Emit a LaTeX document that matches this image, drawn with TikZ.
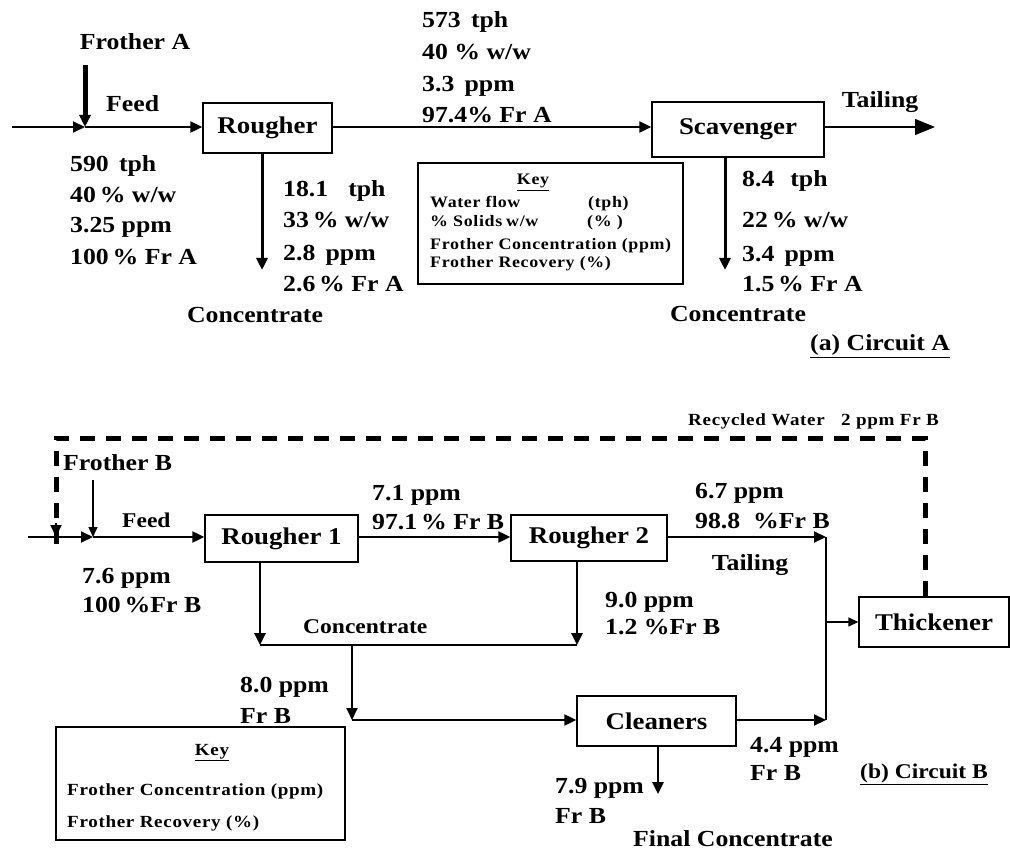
\documentclass[tikz,border=0pt]{standalone}
\usepackage{fontspec}
\setmainfont{Liberation Serif}[FakeStretch=1.12]
\newfontfamily\keyfam{Liberation Serif}[FakeStretch=1.12,LetterSpace=4]
\usetikzlibrary{arrows.meta}
\newcommand\txtf{\fontsize{23}{26}\selectfont\bfseries}
\newcommand\boxf{\fontsize{24}{27}\selectfont\bfseries}
\newcommand\keyf{\keyfam\fontsize{16}{18}\selectfont\bfseries}
\newcommand\smallf{\keyfam\fontsize{17}{19}\selectfont\bfseries}
\tikzset{
  lbl/.style={anchor=base west,inner sep=0pt,font=\txtf},
  lblc/.style={anchor=base,inner sep=0pt,font=\txtf},
  klbl/.style={anchor=base west,inner sep=0pt,font=\keyf},
  unitbox/.style={draw,line width=1.3pt,inner sep=0pt,font=\boxf},
  keybox/.style={draw,line width=1.3pt,inner sep=0pt},
  arr/.style={-{Triangle[length=12pt,width=11pt]}},
  sarr/.style={-{Triangle[length=10pt,width=9pt]}},
  bigarr/.style={-{Triangle[length=20pt,width=16pt]}},
  heavy/.style={line width=5pt},
  flow/.style={line width=2pt},
  thinflow/.style={line width=1.3pt},
  recycle/.style={line width=5pt,dash pattern=on 15pt off 11pt},
}
\begin{document}
\begin{tikzpicture}[x=1pt,y=-1pt]
\useasboundingbox (0,0) rectangle (1010,850);

% ================= Circuit A =================
\node[unitbox,minimum width=129pt,minimum height=50pt] (rA) at (267.5,128) {Rougher};
\node[unitbox,minimum width=172pt,minimum height=55pt] (sA) at (738,129.5) {Scavenger};
\node[keybox,minimum width=265pt,minimum height=121pt] (keyA) at (550.5,223.5) {};

\coordinate (fa0) at (12,127);
\coordinate (fjA) at (85,127);
\coordinate (frA) at (85,65);
\coordinate (tailA) at (935,127);
\coordinate (cA1) at (262,270);
\coordinate (cA2) at (725,270);

\draw[flow,arr] (fa0) -- (fjA);
\draw[flow,arr] (fjA) -- (fjA -| rA.west);
\draw[heavy,arr] (frA) -- (fjA);
\draw[flow,arr] (rA.east |- fjA) -- (fjA -| sA.west);
\draw[thinflow,bigarr] (sA.east |- tailA) -- (tailA);
\draw[line width=3pt,arr] (cA1 |- rA.south) -- (cA1);
\draw[line width=3pt,arr] (cA2 |- sA.south) -- (cA2);

\node[lblc] (tFrA) at (135,50) {Frother A};
\node[lbl] (tFeedA) at (106,112) {Feed};
\node[lbl] (a1) at (70,172) {590 \,tph};
\node[lbl] (a2) at (70,203) {40\,\% w/w};
\node[lbl] (a3) at (70,233) {3.25 ppm};
\node[lbl] (a4) at (70,265) {100\,\% Fr A};

\node[lbl] (b1) at (283,197) {18.1\hspace{20pt}tph};
\node[lbl] (b2) at (283,228) {33\,\% w/w};
\node[lbl] (b3) at (283,261) {2.8 \,ppm};
\node[lbl] (b4) at (283,292) {2.6\,\% Fr A};
\node[lblc] (cnA1) at (255,323) {Concentrate};

\node[lbl] (m1) at (422,28) {573 \,tph};
\node[lbl] (m2) at (422,60) {40 \% w/w};
\node[lbl] (m3) at (422,92) {3.3 \,ppm};
\node[lbl] (m4) at (422,123) {97.4\% Fr A};

\node[lblc] (tTailA) at (880,108) {Tailing};
\node[lbl] (s1) at (742,187) {8.4\hspace{16pt}tph};
\node[lbl] (s2) at (742,228) {22\,\% w/w};
\node[lbl] (s3) at (742,262) {3.4 \,ppm};
\node[lbl] (s4) at (742,292) {1.5\,\% Fr A};
\node[lblc] (cnA2) at (738,322) {Concentrate};
\node[lbl] (capA) at (810,351) {\underline{(a) Circuit A}};

\node[anchor=base,inner sep=0pt,font=\keyf] (kA0) at (533,185) {\underline{Key}};
\node[klbl] (kA1) at (430,208) {Water flow};
\node[klbl] (kA1u) at (588,208) {(tph)};
\node[klbl] (kA2) at (430,227) {\% Solids};
\node[klbl] (kA2w) at (506,227) {w/w};
\node[klbl] (kA2u) at (587,227) {(\% )};
\node[klbl] (kA3) at (430,250) {Frother Concentration (ppm)};
\node[klbl] (kA4) at (430,268) {Frother Recovery (\%)};

% ================= Circuit B =================
\node[unitbox,minimum width=153pt,minimum height=47pt] (r1) at (281.5,538.5) {Rougher 1};
\node[unitbox,minimum width=156pt,minimum height=46pt] (r2) at (589,538) {Rougher 2};
\node[unitbox,minimum width=150pt,minimum height=50pt] (th) at (934,622) {Thickener};
\node[unitbox,minimum width=159pt,minimum height=50pt] (cl) at (656.5,721) {Cleaners};
\node[keybox,minimum width=289pt,minimum height=113pt] (keyB) at (200.5,783.5) {};

\coordinate (fb0) at (28,537);
\coordinate (fjB) at (93,537);
\coordinate (rcB) at (56,537);
\coordinate (frB) at (93,480);
\coordinate (dTL) at (56,438);
\coordinate (dTR) at (925,438);
\coordinate (tjB) at (826,537);
\coordinate (cjB) at (826,720);
\coordinate (c1) at (260,645);
\coordinate (c2) at (577,645);
\coordinate (cm) at (352,645);
\coordinate (cm2) at (352,720);
\coordinate (fcB) at (658,794);

\draw[recycle] (dTR |- th.north) -- (dTR) -- (dTL) -- ([yshift=-12pt]rcB);
\draw[flow,arr] (dTL |- rcB) ++(0,-14) -- (rcB);
\draw[flow,arr] (fb0) -- (fjB);
\draw[flow,arr] (fjB) -- (fjB -| r1.west);
\draw[thinflow,sarr] (frB) -- (fjB);
\draw[flow,arr] (r1.east |- fjB) -- (fjB -| r2.west);
\draw[flow,arr] (r2.east |- tjB) -- (tjB);
\draw[thinflow] (tjB) -- (cjB);
\draw[thinflow,sarr] (tjB |- th.west) -- (th.west);
\draw[line width=2.5pt,arr] (c1 |- r1.south) -- (c1);
\draw[line width=2.5pt,arr] (c2 |- r2.south) -- (c2);
\draw[flow] (c1) -- (c2);
\draw[flow,arr] (cm) -- (cm2);
\draw[flow,arr] (cm2) -- (cm2 -| cl.west);
\draw[flow,arr] (cl.east |- cjB) -- (cjB);
\draw[line width=2.5pt,arr] (fcB |- cl.south) -- (fcB);

\node[anchor=base west,inner sep=0pt,font=\smallf] (tRec) at (688,425) {Recycled Water \ \ 2 ppm Fr B};
\node[lbl] (tFrB) at (63,470) {Frother B};
\node[lbl,font=\fontsize{21}{24}\selectfont\bfseries] (tFeedB) at (122,527) {Feed};
\node[lbl] (f1) at (82,583) {7.6 ppm};
\node[lbl] (f2) at (82,612) {100\,\%Fr B};
\node[lbl] (g1) at (372,500) {7.1 ppm};
\node[lbl] (g2) at (372,529) {97.1\,\% Fr B};
\node[lbl] (h1) at (695,498) {6.7 ppm};
\node[lbl] (h2) at (695,528) {98.8 \ \%Fr B};
\node[lblc] (tTailB) at (750,570) {Tailing};
\node[lbl] (i1) at (605,607) {9.0 ppm};
\node[lbl] (i2) at (605,634) {1.2 \%Fr B};
\node[lbl,font=\fontsize{21}{24}\selectfont\bfseries] (cnB) at (303,633) {Concentrate};
\node[lbl] (j1) at (240,692) {8.0 ppm};
\node[lbl] (j2) at (240,723) {Fr B};
\node[lbl] (k1) at (750,752) {4.4 ppm};
\node[lbl] (k2) at (750,780) {Fr B};
\node[lbl] (l1) at (555,793) {7.9 ppm};
\node[lbl] (l2) at (555,823) {Fr B};
\node[lblc] (tFinal) at (733,846) {Final Concentrate};
\node[lbl,font=\fontsize{21}{24}\selectfont\bfseries] (capB) at (860,778) {\underline{(b) Circuit B}};

\node[anchor=base,inner sep=0pt,font=\smallf] (kB0) at (212,755) {\underline{Key}};
\node[anchor=base west,inner sep=0pt,font=\smallf] (kB1) at (67,795) {Frother Concentration (ppm)};
\node[anchor=base west,inner sep=0pt,font=\smallf] (kB2) at (67,827) {Frother Recovery (\%)};
\end{tikzpicture}
\end{document}
